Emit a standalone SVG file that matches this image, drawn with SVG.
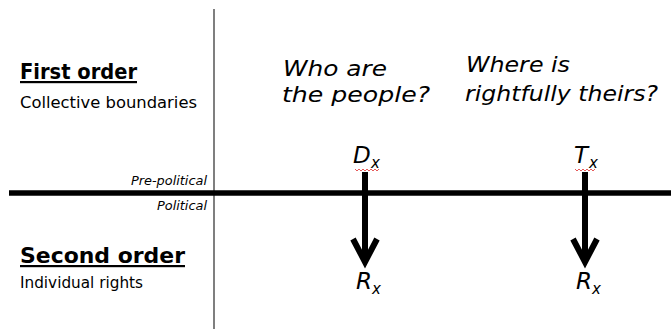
<svg xmlns="http://www.w3.org/2000/svg" width="671" height="329" viewBox="0 0 671 329">
<style>
text{font-family:"DejaVu Sans","Liberation Sans",sans-serif;fill:#000}
.head{font-size:22px;font-weight:bold;text-decoration:underline}
.sub{font-size:16.5px}
.q{font-size:22px;font-style:italic}
.sm{font-size:12px;font-style:italic;text-anchor:end}
.var{font-size:23px;font-style:italic}
.vs{font-size:15px;font-style:italic}
.arr{stroke:#000;stroke-width:6;fill:none;stroke-linejoin:miter}
.sq{stroke:#e03030;stroke-width:0.8;fill:none}
</style>
<rect width="671" height="329" fill="#fff"/>
<g id="axes">
<line x1="214" y1="9" x2="214" y2="329" stroke="#555" stroke-width="1.5"/>
<line x1="9" y1="193" x2="671" y2="193" stroke="#000" stroke-width="5.5"/>
</g>
<g id="first-order">
<text class="head" x="20" y="79" textLength="117" lengthAdjust="spacingAndGlyphs">First order</text>
<text class="sub" x="20" y="108" textLength="177" lengthAdjust="spacingAndGlyphs">Collective boundaries</text>
</g>
<g id="second-order">
<text class="head" x="20" y="263" textLength="165" lengthAdjust="spacingAndGlyphs">Second order</text>
<text class="sub" x="20" y="288" textLength="123" lengthAdjust="spacingAndGlyphs">Individual rights</text>
</g>
<g id="levels">
<text class="sm" x="207" y="185" textLength="76" lengthAdjust="spacingAndGlyphs">Pre-political</text>
<text class="sm" x="207" y="210" textLength="50" lengthAdjust="spacingAndGlyphs">Political</text>
</g>
<g id="q-people">
<text class="q" x="283" y="76" textLength="104" lengthAdjust="spacingAndGlyphs">Who are</text>
<text class="q" x="282" y="102" textLength="148" lengthAdjust="spacingAndGlyphs">the people?</text>
</g>
<g id="q-territory">
<text class="q" x="466" y="72" textLength="104" lengthAdjust="spacingAndGlyphs">Where is</text>
<text class="q" x="465" y="101" textLength="193" lengthAdjust="spacingAndGlyphs">rightfully theirs?</text>
</g>
<g id="Dx">
<text class="var" x="353" y="163">D</text><text class="vs" x="371" y="168">x</text>
<path class="sq" d="M355,169 l2,2 l2,-2 l2,2 l2,-2 l2,2 l2,-2 l2,2 l2,-2 l2,2 l2,-2 l2,2 l2,-2"/>
</g>
<g id="Tx">
<text class="var" x="574" y="163">T</text><text class="vs" x="589" y="168">x</text>
<path class="sq" d="M575,169 l2,2 l2,-2 l2,2 l2,-2 l2,2 l2,-2 l2,2 l2,-2 l2,2 l2,-2"/>
</g>
<g id="Rx1">
<text class="var" x="356" y="289">R</text><text class="vs" x="372" y="294">x</text>
</g>
<g id="Rx2">
<text class="var" x="576" y="289">R</text><text class="vs" x="592" y="294">x</text>
</g>
<g id="connectors">
<path class="arr" d="M365,172 V258 M353,239 L365,262 L377,239"/>
<path class="arr" d="M585,172 V258 M573,239 L585,262 L597,239"/>
</g>
</svg>
